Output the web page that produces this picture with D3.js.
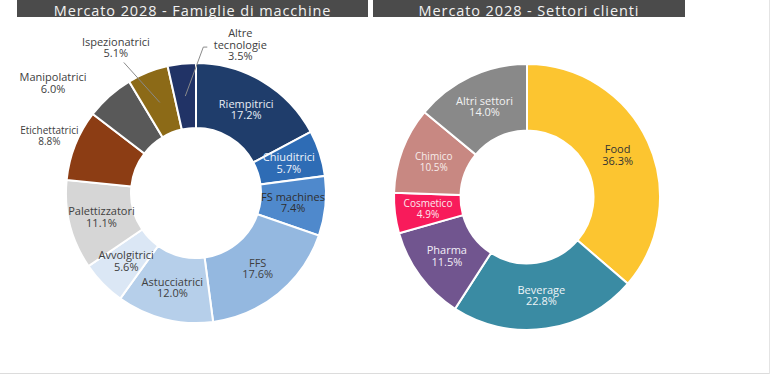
<!DOCTYPE html>
<html>
<head>
<meta charset="utf-8">
<script src="https://cdn.jsdelivr.net/npm/d3@7"></script>
<style>
  body { margin: 0; background: #fff; }
  svg text { font-family: "Open Sans", sans-serif; }
</style>
</head>
<body>
<svg id="chart" width="770" height="374"></svg>
<script>
// left chart: machine families, clockwise from 12 o'clock
const machineNames = ["Riempitrici", "Chiuditrici", "FS machines", "FFS", "Astucciatrici",
  "Avvolgitrici", "Palettizzatori", "Etichettatrici", "Manipolatrici", "Ispezionatrici", "Altre tecnologie"];
const machineShares = [17.2, 5.7, 7.4, 17.6, 12.0, 5.6, 11.1, 8.8, 6.0, 5.1, 3.5];
const machineColors = ["#1f3d6b", "#2e6cb5", "#4f89cc", "#94b8e0", "#b6cfea", "#dbe7f5",
  "#d6d6d6", "#8c3d14", "#595959", "#8c6a17", "#213366"];

// right chart: customer sectors
const sectorNames = ["Food", "Beverage", "Pharma", "Cosmetico", "Chimico", "Altri settori"];
const sectorShares = [36.3, 22.8, 11.5, 4.9, 10.5, 14.0];
const sectorColors = ["#fcc530", "#3a8ba3", "#71558f", "#f81b5b", "#c88882", "#898989"];

const titles = ["Mercato 2028 - Famiglie di macchine", "Mercato 2028 - Settori clienti"];

const svg = d3.select('#chart');

// frame lines at bottom/right like the screenshot
svg.append("line").attr("x1", 0).attr("x2", 770).attr("y1", 373.5).attr("y2", 373.5)
  .attr("stroke", "#dcdcdc");
svg.append("line").attr("x1", 769.5).attr("x2", 769.5).attr("y1", 0).attr("y2", 374)
  .attr("stroke", "#e4e4e4");

// title bars
const bars = [{x: 17, w: 351, t: titles[0]}, {x: 373, w: 312, t: titles[1]}];
bars.forEach(b => {
  svg.append("rect").attr("x", b.x).attr("y", 0).attr("width", b.w).attr("height", 17)
    .attr("fill", "#4b4b4b");
  svg.append("text").attr("x", b.x + b.w / 2).attr("y", 15.5)
    .attr("text-anchor", "middle").attr("font-size", 14.5).attr("letter-spacing", 0.9)
    .attr("fill", "#f2f2f2")
    .text(b.t);
});

function drawDonut(opts) {
  const data = opts.names.map((n, i) => ({name: n, value: opts.values[i], color: opts.colors[i],
    textColor: opts.textColors[i], size: opts.sizes ? opts.sizes[i] : 11}));

  const g = svg.append("g")
    .attr("transform", "translate(" + opts.cx + "," + opts.cy + ")");

  const pie = d3.pie().value(d => d.value).sort(null);
  const arc = d3.arc().innerRadius(opts.r * 0.5).outerRadius(opts.r);
  const arcs = pie(data);

  g.selectAll("path")
    .data(arcs)
    .enter()
    .append("path")
    .attr("d", arc)
    .attr("fill", d => d.data.color)
    .attr("stroke", "#fff")
    .attr("stroke-width", 2);

  arcs.forEach(d => {
    let pos = arc.centroid(d);
    const out = opts.outside && opts.outside[d.data.name];
    if (out) {
      // label moved outside the ring, with optional leader line from the centroid
      const c = pos;
      pos = [c[0] + out.dx, c[1] + out.dy];
      if (out.line) {
        const end = [pos[0] + out.line[0], pos[1] + out.line[1]];
        const pts = [c, end];
        if (out.tick) pts.push([end[0] + out.tick, end[1]]);
        g.append("path")
          .attr("d", d3.line()(pts))
          .attr("fill", "none")
          .attr("stroke", "#8a8a8a")
          .attr("stroke-width", 1);
      }
    }
    const lines = (out && out.lines) ? out.lines : [d.data.name];
    lines.push(d.data.value.toFixed(1) + "%");
    const lh = d.data.size + 0.5;
    const t = g.append("text")
      .attr("text-anchor", "middle")
      .attr("font-size", d.data.size)
      .attr("fill", d.data.textColor);
    lines.forEach((l, i) => {
      t.append("tspan")
        .attr("x", pos[0])
        .attr("y", pos[1] + (i - (lines.length - 1) / 2) * lh + d.data.size * 0.35)
        .text(l);
    });
  });
}

drawDonut({
  cx: 196, cy: 193, r: 130,
  names: machineNames, values: machineShares, colors: machineColors,
  textColors: ["#e8edf5", "#eef3fa", "#2f2f2f", "#404040", "#404040", "#404040",
    "#404040", "#404040", "#404040", "#404040", "#404040"],
  sizes: [11, 11, 11, 11, 11, 11, 11, 10, 11, 11, 11],
  outside: {
    "Etichettatrici": {dx: -56, dy: -21},
    "Manipolatrici": {dx: -78, dy: -37},
    "Ispezionatrici": {dx: -44, dy: -55, line: [8, 15]},
    "Altre tecnologie": {dx: 55, dy: -51, line: [-37, 2], tick: 4, lines: ["Altre", "tecnologie"]}
  }
});

drawDonut({
  cx: 527, cy: 197, r: 133,
  names: sectorNames, values: sectorShares, colors: sectorColors,
  textColors: ["#333333", "#eef4f7", "#f2eef7", "#fbe9ee", "#f7eceb", "#f2f2f2"],
  sizes: [11, 11, 11, 10, 10, 11]
});
</script>
</body>
</html>
